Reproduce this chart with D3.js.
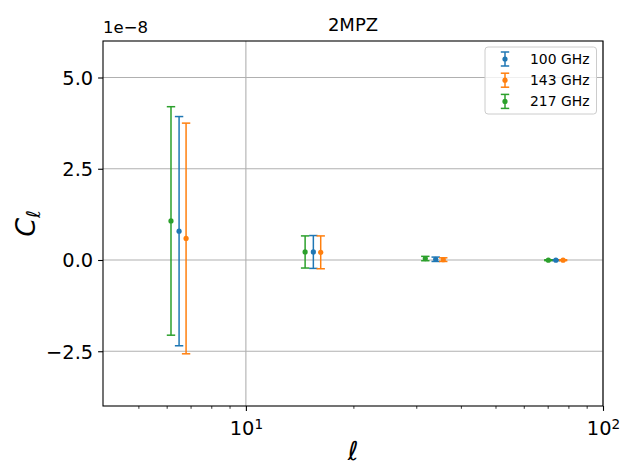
<!DOCTYPE html>
<html>
<head>
<meta charset="utf-8">
<script src="https://cdn.jsdelivr.net/npm/d3@7"></script>
<style>
  body { margin: 0; background: #fff; }
  text { font-family: "DejaVu Sans", sans-serif; }
</style>
</head>
<body>
<div id="chart"></div>
<script>
// values in units of 1e-8
var series = ["100 GHz", "143 GHz", "217 GHz"];
var colors = ["#1f77b4", "#ff7f0e", "#2ca02c"];

var ell100 = [6.5, 15.45, 34.0, 73.8];
var ell143 = [6.8, 16.2, 35.7, 77.3];
var ell217 = [6.17, 14.65, 31.8, 70.3];

var cl100 = [0.79, 0.22, 0.02, -0.005];
var cl143 = [0.59, 0.21, 0.01, -0.005];
var cl217 = [1.07, 0.22, 0.04, -0.005];

var err100 = [3.14, 0.45, 0.06, 0.012];
var err143 = [3.16, 0.45, 0.05, 0.012];
var err217 = [3.13, 0.44, 0.06, 0.012];

var yTicks = [-2.5, 0.0, 2.5, 5.0];
var xMajor = [10, 100];
var xMinor = [5, 6, 7, 8, 9, 20, 30, 40, 50, 60, 70, 80, 90];

var W = 623, H = 466;
var margin = { top: 41, right: 20, bottom: 60, left: 103 },
    width = W - margin.left - margin.right,
    height = H - margin.top - margin.bottom;

var svg = d3.select("#chart")
    .append("svg")
    .attr("width", W)
    .attr("height", H);

var chart = svg.append("g")
    .attr("transform", "translate(" + margin.left + "," + margin.top + ")");

var xScale = d3.scaleLog()
    .domain([3.98, 100])
    .range([0, width]);

var yScale = d3.scaleLinear()
    .domain([-4.0, 6.0])
    .range([height, 0]);

// grid
chart.append("g")
    .selectAll("line")
    .data(yTicks)
    .enter()
    .append("line")
    .attr("x1", 0)
    .attr("x2", width)
    .attr("y1", function (d) { return yScale(d); })
    .attr("y2", function (d) { return yScale(d); })
    .attr("stroke", "#b0b0b0")
    .attr("stroke-width", 1.1);

chart.append("g")
    .selectAll("line")
    .data(xMajor)
    .enter()
    .append("line")
    .attr("x1", function (d) { return xScale(d); })
    .attr("x2", function (d) { return xScale(d); })
    .attr("y1", 0)
    .attr("y2", height)
    .attr("stroke", "#b0b0b0")
    .attr("stroke-width", 1.1);

// error bars
var data = [
    { name: series[0], color: colors[0], x: ell100, y: cl100, e: err100 },
    { name: series[1], color: colors[1], x: ell143, y: cl143, e: err143 },
    { name: series[2], color: colors[2], x: ell217, y: cl217, e: err217 }
];

var capW = 4.2;

data.forEach(function (s) {
    var pts = s.x.map(function (v, i) { return { x: v, y: s.y[i], e: s.e[i] }; });
    var g = chart.append("g").attr("stroke", s.color).attr("fill", s.color);

    g.selectAll(".bar")
        .data(pts)
        .enter()
        .append("line")
        .attr("x1", function (d) { return xScale(d.x); })
        .attr("x2", function (d) { return xScale(d.x); })
        .attr("y1", function (d) { return yScale(d.y - d.e); })
        .attr("y2", function (d) { return yScale(d.y + d.e); })
        .attr("stroke-width", 1.5);

    [-1, 1].forEach(function (sign) {
        g.selectAll(".cap" + sign)
            .data(pts)
            .enter()
            .append("line")
            .attr("x1", function (d) { return xScale(d.x) - capW; })
            .attr("x2", function (d) { return xScale(d.x) + capW; })
            .attr("y1", function (d) { return yScale(d.y + sign * d.e); })
            .attr("y2", function (d) { return yScale(d.y + sign * d.e); })
            .attr("stroke-width", 1.5);
    });

    g.selectAll("circle")
        .data(pts)
        .enter()
        .append("circle")
        .attr("cx", function (d) { return xScale(d.x); })
        .attr("cy", function (d) { return yScale(d.y); })
        .attr("r", 2.6)
        .attr("stroke", "none");
});

// axes
var yAxis = chart.append("g")
    .call(d3.axisLeft(yScale)
        .tickValues(yTicks)
        .tickSize(4.9)
        .tickPadding(4.9)
        .tickFormat(function (d) { return d3.format(".1f")(d).replace("-", "\u2212"); }));
yAxis.select(".domain").remove();
yAxis.selectAll("text").style("font-size", "19.4px").attr("fill", "#000").attr("dy", "0.35em");
yAxis.selectAll("line").attr("stroke", "#000").attr("stroke-width", 1.1);

var xAxis = chart.append("g")
    .attr("transform", "translate(0," + height + ")")
    .call(d3.axisBottom(xScale)
        .tickValues(xMajor)
        .tickSize(4.9)
        .tickPadding(4.9)
        .tickFormat(""));
xAxis.select(".domain").remove();
xAxis.selectAll("line").attr("stroke", "#000").attr("stroke-width", 1.1);

var xAxisMinor = chart.append("g")
    .attr("transform", "translate(0," + height + ")")
    .call(d3.axisBottom(xScale)
        .tickValues(xMinor)
        .tickSize(2.8)
        .tickFormat(""));
xAxisMinor.select(".domain").remove();
xAxisMinor.selectAll("line").attr("stroke", "#000").attr("stroke-width", 0.8);

// x tick labels 10^n
xAxis.selectAll(".tick").each(function (d) {
    var t = d3.select(this).append("text")
        .attr("y", 29)
        .attr("text-anchor", "middle")
        .attr("fill", "#000")
        .style("font-size", "19.4px");
    t.append("tspan").text("10");
    t.append("tspan")
        .attr("dy", "-0.45em")
        .style("font-size", "13.6px")
        .text(String(Math.round(Math.log10(d))));
});

// frame
chart.append("rect")
    .attr("width", width)
    .attr("height", height)
    .attr("fill", "none")
    .attr("stroke", "#000")
    .attr("stroke-width", 1.1);

// offset text
chart.append("text")
    .attr("x", 0)
    .attr("y", -8)
    .style("font-size", "16.5px")
    .text("1e\u22128");

// title
chart.append("text")
    .attr("x", width / 2)
    .attr("y", -10)
    .attr("text-anchor", "middle")
    .style("font-size", "18px")
    .text("2MPZ");

// axis labels
svg.append("text")
    .attr("x", margin.left + width / 2)
    .attr("y", 460)
    .attr("text-anchor", "middle")
    .style("font-size", "26px")
    .style("font-style", "italic")
    .text("\u2113");

var yl = svg.append("text")
    .attr("transform", "translate(35," + (margin.top + height / 2) + ") rotate(-90)")
    .attr("text-anchor", "middle")
    .style("font-size", "27px")
    .style("font-style", "italic");
yl.append("tspan").text("C");
yl.append("tspan").attr("dy", "0.25em").style("font-size", "19px").text("\u2113");

// legend
var lg = chart.append("g").attr("transform", "translate(" + (width - 118) + ",6)");
lg.append("rect")
    .attr("width", 111.5)
    .attr("height", 67)
    .attr("rx", 3)
    .attr("fill", "#fff")
    .attr("fill-opacity", 0.8)
    .attr("stroke", "#cccccc")
    .attr("stroke-width", 1);

var rows = lg.selectAll(".row")
    .data(data)
    .enter()
    .append("g")
    .attr("transform", function (d, i) { return "translate(0," + (12 + i * 21.2) + ")"; });

rows.append("line")
    .attr("x1", 20).attr("x2", 20)
    .attr("y1", -7).attr("y2", 7)
    .attr("stroke", function (d) { return d.color; })
    .attr("stroke-width", 1.5);
rows.append("line")
    .attr("x1", 20 - capW).attr("x2", 20 + capW)
    .attr("y1", -7).attr("y2", -7)
    .attr("stroke", function (d) { return d.color; })
    .attr("stroke-width", 1.5);
rows.append("line")
    .attr("x1", 20 - capW).attr("x2", 20 + capW)
    .attr("y1", 7).attr("y2", 7)
    .attr("stroke", function (d) { return d.color; })
    .attr("stroke-width", 1.5);
rows.append("circle")
    .attr("cx", 20).attr("cy", 0).attr("r", 2.6)
    .attr("fill", function (d) { return d.color; });
rows.append("text")
    .attr("x", 45)
    .attr("y", 0)
    .attr("dy", "0.35em")
    .style("font-size", "13.9px")
    .text(function (d) { return d.name; });
</script>
</body>
</html>
